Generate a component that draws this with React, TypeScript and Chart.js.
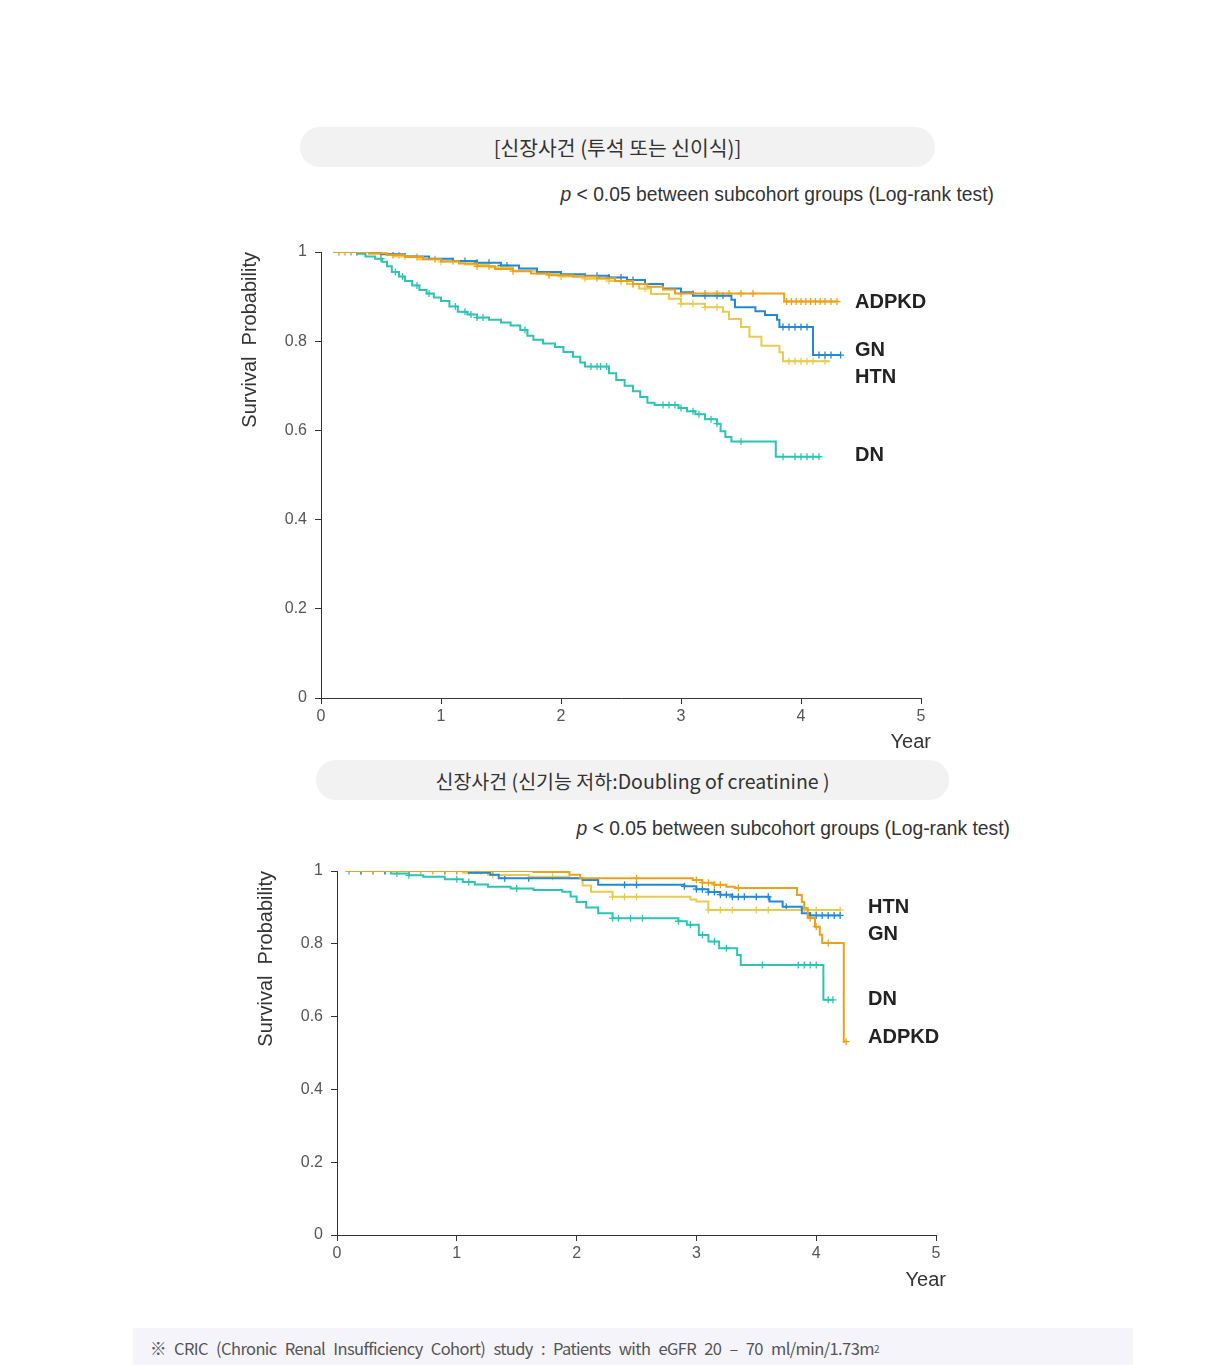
import React, { useEffect, useRef } from "react";
import { Chart, registerables } from "chart.js";

Chart.register(...registerables);

type Pt = [number, number];

// ---------- data ----------
const groupNames = ["ADPKD", "GN", "HTN", "DN"];
const groupColors = ["#EDA117", "#2389D6", "#E6CB4F", "#2CC4B3"];
const yearTicks = [0, 1, 2, 3, 4, 5];
const probTicks = [0, 0.2, 0.4, 0.6, 0.8, 1];

// Chart 1: 신장사건 (투석 또는 신이식) — step points [year, survival]
const esrdADPKD: Pt[] = [[0.1, 1], [0.4, 0.997], [0.55, 0.993], [0.7, 0.989], [0.85, 0.984], [1.0, 0.979], [1.15, 0.974], [1.3, 0.968], [1.45, 0.962], [1.6, 0.957], [1.75, 0.952], [1.9, 0.948], [2.1, 0.945], [2.3, 0.941], [2.45, 0.935], [2.6, 0.928], [2.72, 0.922], [2.85, 0.916], [2.95, 0.907], [3.86, 0.889], [4.3, 0.889]];
const esrdGN: Pt[] = [[0.1, 1], [0.5, 0.995], [0.7, 0.99], [0.9, 0.985], [1.1, 0.98], [1.3, 0.976], [1.5, 0.97], [1.65, 0.963], [1.8, 0.955], [2.0, 0.95], [2.2, 0.947], [2.4, 0.943], [2.55, 0.937], [2.7, 0.928], [2.85, 0.918], [3.0, 0.91], [3.1, 0.902], [3.42, 0.893], [3.45, 0.876], [3.62, 0.867], [3.7, 0.859], [3.8, 0.848], [3.82, 0.832], [4.1, 0.769], [4.33, 0.769]];
const esrdHTN: Pt[] = [[0.1, 1], [0.4, 0.996], [0.6, 0.99], [0.8, 0.984], [1.0, 0.978], [1.2, 0.972], [1.4, 0.966], [1.6, 0.958], [1.8, 0.951], [2.0, 0.945], [2.2, 0.94], [2.4, 0.935], [2.55, 0.928], [2.65, 0.918], [2.75, 0.906], [2.9, 0.895], [3.0, 0.884], [3.2, 0.876], [3.35, 0.866], [3.4, 0.85], [3.5, 0.832], [3.57, 0.81], [3.67, 0.79], [3.82, 0.775], [3.85, 0.755], [4.24, 0.755]];
const esrdDN: Pt[] = [[0.1, 1], [0.3, 0.996], [0.37, 0.99], [0.45, 0.985], [0.51, 0.978], [0.55, 0.968], [0.59, 0.955], [0.65, 0.945], [0.7, 0.935], [0.76, 0.925], [0.82, 0.915], [0.88, 0.907], [0.94, 0.898], [1.0, 0.89], [1.07, 0.878], [1.14, 0.866], [1.22, 0.86], [1.3, 0.853], [1.4, 0.848], [1.5, 0.842], [1.58, 0.835], [1.66, 0.825], [1.72, 0.812], [1.77, 0.803], [1.85, 0.795], [1.95, 0.787], [2.02, 0.776], [2.1, 0.765], [2.16, 0.752], [2.2, 0.743], [2.4, 0.728], [2.46, 0.713], [2.53, 0.7], [2.6, 0.688], [2.66, 0.675], [2.72, 0.662], [2.78, 0.657], [2.98, 0.65], [3.05, 0.643], [3.12, 0.636], [3.2, 0.625], [3.3, 0.615], [3.33, 0.598], [3.37, 0.585], [3.42, 0.575], [3.79, 0.541], [4.16, 0.541]];

const esrdCensorADPKD = [0.2, 0.3, 0.5, 0.6, 0.65, 0.8, 0.95, 1.1, 1.3, 1.4, 1.6, 1.9, 2.3, 2.5, 2.6, 3.0, 3.1, 3.2, 3.3, 3.4, 3.5, 3.6, 3.88, 3.92, 3.96, 4.0, 4.04, 4.08, 4.12, 4.16, 4.2, 4.25, 4.3];
const esrdCensorGN = [0.3, 0.6, 1.2, 1.3, 1.4, 1.5, 1.55, 2.3, 2.4, 2.5, 2.6, 3.2, 3.3, 3.35, 3.85, 3.9, 3.95, 4.0, 4.05, 4.15, 4.2, 4.25, 4.33];
const esrdCensorHTN = [0.15, 0.35, 0.7, 1.0, 1.5, 2.0, 2.2, 2.4, 2.6, 2.7, 3.0, 3.1, 3.2, 3.3, 3.9, 3.95, 4.0, 4.05, 4.1, 4.2];
const esrdCensorDN = [0.15, 0.25, 0.5, 0.62, 0.68, 0.8, 0.9, 1.12, 1.2, 1.25, 1.3, 1.35, 1.7, 2.25, 2.3, 2.33, 2.38, 2.85, 2.9, 2.95, 3.0, 3.1, 3.15, 3.25, 3.3, 3.5, 3.85, 3.95, 4.0, 4.05, 4.1, 4.15];

// Chart 2: 신장사건 (신기능 저하: Doubling of creatinine)
const dblADPKD: Pt[] = [[0.07, 1], [1.64, 0.997], [1.94, 0.99], [2.03, 0.98], [2.97, 0.975], [3.05, 0.968], [3.15, 0.962], [3.25, 0.957], [3.32, 0.953], [3.84, 0.934], [3.88, 0.915], [3.9, 0.898], [3.93, 0.871], [3.99, 0.847], [4.03, 0.825], [4.05, 0.802], [4.23, 0.531], [4.25, 0.531]];
const dblGN: Pt[] = [[0.1, 1], [1.1, 0.995], [1.28, 0.99], [1.35, 0.98], [2.05, 0.975], [2.18, 0.962], [2.9, 0.958], [3.0, 0.95], [3.1, 0.942], [3.2, 0.935], [3.3, 0.929], [3.61, 0.916], [3.72, 0.902], [3.88, 0.884], [3.95, 0.878], [4.2, 0.878]];
const dblHTN: Pt[] = [[0.1, 1], [1.05, 0.995], [1.26, 0.989], [1.6, 0.984], [1.94, 0.98], [2.05, 0.96], [2.12, 0.943], [2.3, 0.929], [2.95, 0.922], [3.0, 0.916], [3.1, 0.893], [4.2, 0.893]];
const dblDN: Pt[] = [[0.1, 1], [0.45, 0.993], [0.6, 0.988], [0.72, 0.984], [0.9, 0.977], [1.05, 0.97], [1.15, 0.963], [1.26, 0.957], [1.45, 0.952], [1.64, 0.948], [1.88, 0.943], [1.95, 0.93], [2.0, 0.915], [2.08, 0.9], [2.18, 0.884], [2.3, 0.87], [2.85, 0.862], [2.92, 0.852], [3.02, 0.824], [3.1, 0.806], [3.19, 0.788], [3.34, 0.769], [3.37, 0.742], [4.06, 0.646], [4.14, 0.646]];

const dblCensorADPKD = [0.3, 0.5, 0.6, 0.7, 0.8, 0.9, 1.0, 1.1, 1.2, 1.3, 2.5, 3.0, 3.05, 3.1, 3.15, 3.2, 3.35, 3.9, 3.95, 4.0, 4.1, 4.25];
const dblCensorGN = [0.2, 0.4, 0.6, 0.9, 1.4, 1.6, 2.4, 2.5, 2.9, 3.0, 3.05, 3.1, 3.15, 3.2, 3.25, 3.3, 3.35, 3.4, 3.5, 3.6, 3.75, 3.95, 4.0, 4.05, 4.1, 4.15, 4.2];
const dblCensorHTN = [0.2, 0.5, 1.0, 1.3, 1.8, 2.3, 2.4, 2.5, 3.1, 3.2, 3.3, 3.5, 3.6, 4.0, 4.2];
const dblCensorDN = [0.1, 0.2, 0.3, 0.4, 0.5, 0.6, 1.0, 1.1, 1.5, 2.3, 2.35, 2.45, 2.55, 2.85, 2.95, 3.05, 3.15, 3.25, 3.55, 3.85, 3.9, 3.95, 4.0, 4.1, 4.14];

// ---------- helpers ----------
function survivalAt(curve: Pt[], t: number): number {
  let v = curve[0][1];
  for (const [x, y] of curve) {
    if (x <= t + 1e-9) v = y;
    else break;
  }
  return v;
}

const FONT = "'Liberation Sans', Arial, sans-serif";
const KFONT = "'Noto Sans CJK KR', 'Noto Sans', sans-serif";

interface KMProps {
  curves: Pt[][];
  censors: number[][];
  left: number;
  top: number;
  width: number;
  height: number;
}

function KMChart({ curves, censors, left, top, width, height }: KMProps) {
  const ref = useRef<HTMLCanvasElement | null>(null);
  useEffect(() => {
    if (!ref.current) return;
    const datasets: any[] = [];
    curves.forEach((c, i) => {
      datasets.push({
        label: groupNames[i],
        data: c.map(([x, y]) => ({ x, y })),
        borderColor: groupColors[i],
        backgroundColor: groupColors[i],
        borderWidth: 2,
        stepped: "before",
        pointRadius: 0,
        fill: false,
      });
    });
    censors.forEach((cs, i) => {
      datasets.push({
        label: groupNames[i] + " censored",
        data: cs.map((t) => ({ x: t, y: survivalAt(curves[i], t) })),
        borderColor: groupColors[i],
        backgroundColor: groupColors[i],
        showLine: false,
        pointStyle: "cross",
        pointRadius: 3.5,
        pointBorderWidth: 1.3,
      });
    });
    const chart = new Chart(ref.current, {
      type: "line",
      data: { datasets },
      options: {
        animation: false,
        responsive: false,
        maintainAspectRatio: false,
        layout: { padding: { top: 22, right: 39, bottom: 0, left: 0 } },
        plugins: { legend: { display: false }, tooltip: { enabled: false } },
        scales: {
          x: {
            type: "linear",
            min: 0,
            max: 5,
            afterBuildTicks: (s: any) => {
              s.ticks = yearTicks.map((v) => ({ value: v }));
            },
            afterFit: (s: any) => {
              s.height = 40;
            },
            ticks: { color: "#555", font: { family: FONT, size: 16 }, padding: 3 },
            grid: { display: true, drawOnChartArea: false, drawTicks: true, tickLength: 6, color: "#333" },
            border: { display: true, color: "#333", width: 1 },
          },
          y: {
            type: "linear",
            min: 0,
            max: 1,
            afterBuildTicks: (s: any) => {
              s.ticks = probTicks.map((v) => ({ value: v }));
            },
            afterFit: (s: any) => {
              s.width = 85;
            },
            ticks: {
              color: "#555",
              font: { family: FONT, size: 16 },
              padding: 8,
              callback: (v: any) => String(Math.round(Number(v) * 10) / 10),
            },
            grid: { display: true, drawOnChartArea: false, drawTicks: true, tickLength: 6, color: "#333" },
            border: { display: true, color: "#333", width: 1 },
            title: {
              display: true,
              text: "Survival  Probability",
              align: "end",
              color: "#333",
              font: { family: FONT, size: 20 },
              padding: { top: 2, bottom: 0 },
            },
          },
        },
      } as any,
    });
    return () => chart.destroy();
  }, []);
  return (
    <canvas
      ref={ref}
      width={width}
      height={height}
      style={{ position: "absolute", left, top, width, height, display: "block" }}
    />
  );
}

const pillStyle = (left: number, top: number, width: number, size: number): React.CSSProperties => ({
  position: "absolute",
  left,
  top,
  width,
  height: 40,
  borderRadius: 20,
  background: "#F2F2F2",
  display: "flex",
  alignItems: "center",
  justifyContent: "center",
  fontFamily: KFONT,
  fontSize: size,
  color: "#333",
  whiteSpace: "nowrap",
});

const pStyle = (right: number, top: number): React.CSSProperties => ({
  position: "absolute",
  right: 1208 - right,
  top,
  fontFamily: FONT,
  fontSize: 19.3,
  color: "#333",
  whiteSpace: "nowrap",
  lineHeight: "22px",
});

const labelStyle = (left: number, cy: number): React.CSSProperties => ({
  position: "absolute",
  left,
  top: cy - 12,
  fontFamily: FONT,
  fontWeight: "bold",
  fontSize: 20,
  lineHeight: "24px",
  color: "#222",
  whiteSpace: "nowrap",
});

const yearStyle = (right: number, cy: number): React.CSSProperties => ({
  position: "absolute",
  right: 1208 - right,
  top: cy - 12,
  fontFamily: FONT,
  fontSize: 20,
  lineHeight: "24px",
  color: "#333",
});

export default function App() {
  return (
    <div style={{ position: "absolute", left: 0, top: 0, width: 1208, height: 1365, background: "#fff", overflow: "hidden" }}>
      <div style={pillStyle(300, 127, 635, 20.4)}>[신장사건 (투석 또는 신이식)]</div>
      <div style={pStyle(994, 184)}>
        <i>p</i> &lt; 0.05 between subcohort groups (Log-rank test)
      </div>
      <KMChart
        curves={[esrdADPKD, esrdGN, esrdHTN, esrdDN]}
        censors={[esrdCensorADPKD, esrdCensorGN, esrdCensorHTN, esrdCensorDN]}
        left={236}
        top={230}
        width={724}
        height={508}
      />
      <div style={labelStyle(855, 301)}>ADPKD</div>
      <div style={labelStyle(855, 349)}>GN</div>
      <div style={labelStyle(855, 376)}>HTN</div>
      <div style={labelStyle(855, 454)}>DN</div>
      <div style={yearStyle(931, 741)}>Year</div>

      <div style={pillStyle(316, 760, 633, 19.5)}>신장사건 (신기능 저하:Doubling of creatinine )</div>
      <div style={pStyle(1010, 818)}>
        <i>p</i> &lt; 0.05 between subcohort groups (Log-rank test)
      </div>
      <KMChart
        curves={[dblADPKD, dblGN, dblHTN, dblDN]}
        censors={[dblCensorADPKD, dblCensorGN, dblCensorHTN, dblCensorDN]}
        left={252}
        top={849}
        width={723}
        height={426}
      />
      <div style={labelStyle(868, 906)}>HTN</div>
      <div style={labelStyle(868, 933)}>GN</div>
      <div style={labelStyle(868, 998)}>DN</div>
      <div style={labelStyle(868, 1036)}>ADPKD</div>
      <div style={yearStyle(946, 1279)}>Year</div>

      <div
        style={{
          position: "absolute",
          left: 133,
          top: 1328,
          width: 1000,
          height: 40,
          background: "#F4F4FA",
          display: "flex",
          alignItems: "center",
          paddingLeft: 17,
          boxSizing: "border-box",
          fontFamily: KFONT,
          fontSize: 16.5,
          letterSpacing: -0.6,
          wordSpacing: 5,
          color: "#555",
          whiteSpace: "nowrap",
        }}
      >
        ※ CRIC (Chronic Renal Insufficiency Cohort) study : Patients with eGFR 20 – 70 ml/min/1.73m<sup style={{ fontSize: 10 }}>2</sup>
      </div>
    </div>
  );
}
